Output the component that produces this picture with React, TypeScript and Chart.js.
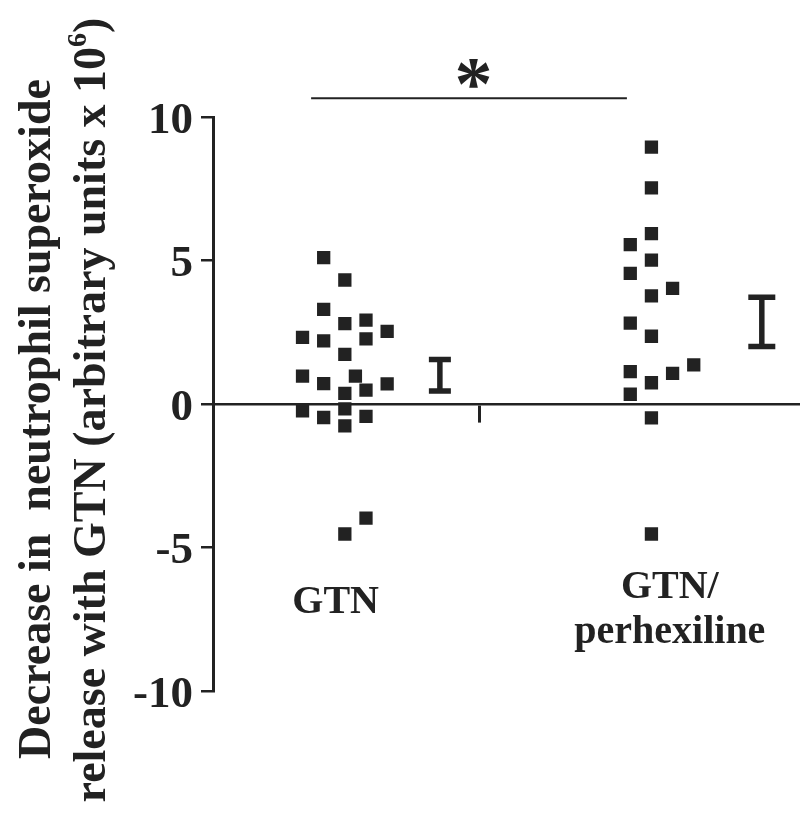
import React, { useEffect, useRef } from "react";
import { Chart, registerables } from "chart.js";

Chart.register(...registerables);

// ---------- data ----------
const groupNames = ["GTN", "GTN/perhexiline"];
const groupLabelLines = [["GTN"], ["GTN/", "perhexiline"]];
const groupCenters = [1, 2];

// individual responses (decrease in superoxide release, arbitrary units x 10^6)
const gtnValues = [5.1, 4.32, 3.3, 2.8, 2.92, 2.32, 2.2, 2.27, 2.53, 1.73, 0.97, 0.71, 0.97, 0.48, 0.7, 0.37, -0.17, -0.76, -0.24, -0.47, -0.43, -3.98, -4.53];
const gtnColumns = [-1, 0, -1, 0, 1, -2, -1, 1, 2, 0, -2, -1, 0.5, 1, 2, 0, 0, 0, -2, -1, 1, 1, 0];

const perhexValues = [8.95, 7.53, 5.94, 5.55, 5.01, 4.55, 4.03, 3.77, 2.82, 2.36, 1.36, 1.13, 1.07, 0.74, 0.34, -0.48, -4.53];
const perhexColumns = [0, 0, 0, -1, 0, -1, 1, 0, -1, 0, 2, -1, 1, 0, -1, 0, 0];

// mean ± SEM
const groupMeans = [1.0, 2.86];
const groupSems = [0.55, 0.86];
const summaryPositions = [1.31, 2.36];

// axes
const yTicks = [-10, -5, 0, 5, 10];
const xTickMarks = [1.44];
const yTitleLine1 = "Decrease in  neutrophil superoxide";
const yTitleLine2Parts = ["release with GTN (arbitrary units x 10", "6", ")"];

// significance annotation
const sigFrom = 0.89;
const sigTo = 1.92;
const sigValue = 10.65;
const sigMark = "*";
const sigMarkX = 1.42;
const sigMarkValue = 11.5;

// category label anchors (x value, baseline value of first line)
const labelX = [0.97, 2.06];
const labelYValue = [-7.28, -6.76];

// ---------- styles ----------
const INK = "#222222";
const FONT = "'Liberation Serif', 'Times New Roman', Times, serif";
const COLUMN_STEP = 0.069;
const capWidths = [22, 27];

const annotationPlugin = {
  id: "paperAnnotations",
  afterDraw(chart: any) {
    const { ctx } = chart;
    const x = chart.scales.x;
    const y = chart.scales.y;
    ctx.save();
    ctx.fillStyle = INK;
    ctx.strokeStyle = INK;

    // mean ± SEM bars
    groupMeans.forEach((m, i) => {
      const px = x.getPixelForValue(summaryPositions[i]);
      const top = y.getPixelForValue(m + groupSems[i]);
      const bot = y.getPixelForValue(m - groupSems[i]);
      const half = capWidths[i] / 2;
      ctx.lineWidth = 5.5;
      ctx.lineCap = "butt";
      ctx.beginPath();
      ctx.moveTo(px, top);
      ctx.lineTo(px, bot);
      ctx.stroke();
      ctx.beginPath();
      ctx.moveTo(px - half, top);
      ctx.lineTo(px + half, top);
      ctx.moveTo(px - half, bot);
      ctx.lineTo(px + half, bot);
      ctx.stroke();
    });

    // significance line + asterisk
    ctx.lineWidth = 2;
    ctx.beginPath();
    const sy = y.getPixelForValue(sigValue);
    ctx.moveTo(x.getPixelForValue(sigFrom), sy);
    ctx.lineTo(x.getPixelForValue(sigTo), sy);
    ctx.stroke();

    ctx.font = `bold 76px ${FONT}`;
    ctx.textAlign = "center";
    ctx.textBaseline = "alphabetic";
    const m = ctx.measureText(sigMark);
    const cy = y.getPixelForValue(sigMarkValue);
    const base = cy - (m.actualBoundingBoxDescent - m.actualBoundingBoxAscent) / 2;
    ctx.fillText(sigMark, x.getPixelForValue(sigMarkX), base);

    // category labels
    ctx.font = `bold 40px ${FONT}`;
    groupLabelLines.forEach((lines, i) => {
      const lx = x.getPixelForValue(labelX[i]);
      const ly = y.getPixelForValue(labelYValue[i]);
      lines.forEach((t, j) => ctx.fillText(t, lx, ly + j * 45));
    });

    // y-axis title (rotated, two lines)
    ctx.font = `bold 46px ${FONT}`;
    ctx.save();
    ctx.translate(50, 419);
    ctx.rotate(-Math.PI / 2);
    ctx.textAlign = "center";
    ctx.fillText(yTitleLine1, 0, 0);
    ctx.restore();

    ctx.save();
    ctx.translate(105, 410);
    ctx.rotate(-Math.PI / 2);
    ctx.textAlign = "left";
    const mainFont = `bold 46px ${FONT}`;
    const supFont = `bold 28px ${FONT}`;
    ctx.font = mainFont;
    const w0 = ctx.measureText(yTitleLine2Parts[0]).width;
    const w2 = ctx.measureText(yTitleLine2Parts[2]).width;
    ctx.font = supFont;
    const w1 = ctx.measureText(yTitleLine2Parts[1]).width;
    let start = -(w0 + w1 + w2) / 2;
    ctx.font = mainFont;
    ctx.fillText(yTitleLine2Parts[0], start, 0);
    start += w0;
    ctx.font = supFont;
    ctx.fillText(yTitleLine2Parts[1], start, -19);
    start += w1;
    ctx.font = mainFont;
    ctx.fillText(yTitleLine2Parts[2], start, 0);
    ctx.restore();

    ctx.restore();
  },
};

export default function App() {
  const canvasRef = useRef<HTMLCanvasElement | null>(null);

  useEffect(() => {
    if (!canvasRef.current) return;
    const toPoints = (vals: number[], cols: number[], center: number) =>
      vals.map((v, i) => ({ x: center + cols[i] * COLUMN_STEP, y: v }));

    const chart = new Chart(canvasRef.current, {
      type: "scatter",
      data: {
        datasets: [
          {
            label: groupNames[0],
            data: toPoints(gtnValues, gtnColumns, groupCenters[0]),
            pointStyle: "rect",
            pointRadius: 9.4,
            pointHoverRadius: 9.4,
            backgroundColor: INK,
            borderWidth: 0,
          },
          {
            label: groupNames[1],
            data: toPoints(perhexValues, perhexColumns, groupCenters[1]),
            pointStyle: "rect",
            pointRadius: 9.4,
            pointHoverRadius: 9.4,
            backgroundColor: INK,
            borderWidth: 0,
          },
        ],
      },
      options: {
        responsive: false,
        animation: false,
        events: [],
        layout: { padding: { top: 117, bottom: 123, left: 0, right: 0 } },
        plugins: {
          legend: { display: false },
          tooltip: { enabled: false },
        },
        scales: {
          x: {
            type: "linear",
            position: { y: 0 } as any,
            min: 0.57,
            max: 2.48,
            bounds: "data",
            afterBuildTicks: (axis: any) => {
              axis.ticks = xTickMarks.map((v) => ({ value: v }));
            },
            ticks: { display: false },
            grid: {
              drawOnChartArea: false,
              drawTicks: true,
              tickLength: 17,
              color: INK,
              lineWidth: 3,
            },
            border: { display: true, color: INK, width: 2.6 },
          },
          y: {
            type: "linear",
            position: "left",
            min: -10,
            max: 10,
            afterBuildTicks: (axis: any) => {
              axis.ticks = yTicks.map((v) => ({ value: v }));
            },
            afterFit: (scale: any) => {
              scale.width = 213;
            },
            ticks: {
              color: INK,
              font: { family: FONT, size: 45, weight: "bold" },
              padding: 8,
              labelOffset: 4,
            },
            grid: {
              drawOnChartArea: false,
              drawTicks: true,
              tickLength: 12,
              color: INK,
              lineWidth: 2.5,
            },
            border: { display: true, color: INK, width: 3 },
          },
        },
      },
      plugins: [annotationPlugin],
    });
    return () => chart.destroy();
  }, []);

  return (
    <div style={{ position: "absolute", left: 0, top: 0, width: 808, height: 814, background: "#fff" }}>
      <canvas ref={canvasRef} width={808} height={814} style={{ display: "block" }} />
    </div>
  );
}
